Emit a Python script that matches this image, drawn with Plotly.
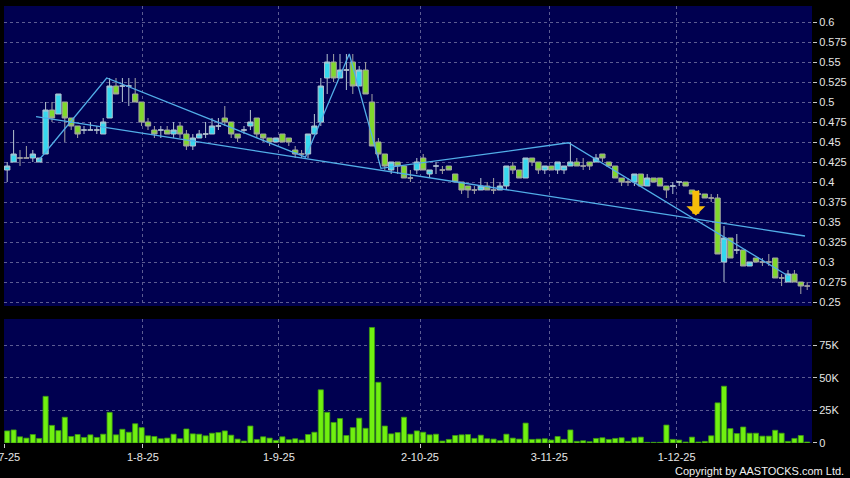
import plotly.graph_objects as go

# ---- data (index = trading day, 2-Jul-2025 .. 31-Dec-2025) ----
opens = [.415,.425,.43,.43,.43,.425,.435,.49,.485,.50,
         .48,.47,.465,.465,.465,.46,.48,.52,.52,.52,
         .51,.50,.475,.465,.465,.465,.46,.47,.46,.445,
         .455,.46,.46,.47,.48,.475,.46,.465,.47,.48,
         .46,.455,.45,.46,.455,.44,.435,.435,.46,.475,
         .53,.55,.53,.54,.55,.52,.54,.50,.45,.435,
         .415,.425,.42,.405,.415,.43,.41,.42,.415,.42,
         .41,.40,.395,.39,.39,.395,.39,.39,.395,.42,
         .415,.405,.43,.425,.415,.42,.415,.415,.42,.425,
         .42,.425,.425,.435,.425,.42,.405,.40,.40,.41,
         .395,.405,.405,.395,.395,.40,.40,.39,.385,.385,
         .38,.38,.30,.33,.315,.315,.295,.305,.30,.30,
         .305,.28,.275,.285,.275,.27]
highs = [.425,.465,.44,.445,.44,.43,.50,.50,.51,.50,
         .48,.47,.47,.475,.47,.48,.53,.53,.53,.53,
         .53,.50,.48,.47,.47,.47,.475,.475,.465,.46,
         .465,.475,.48,.48,.495,.475,.46,.47,.49,.48,
         .46,.455,.455,.46,.455,.445,.44,.46,.485,.53,
         .56,.56,.56,.56,.56,.545,.55,.51,.455,.435,
         .425,.425,.42,.415,.43,.435,.415,.425,.42,.42,
         .41,.40,.395,.395,.405,.40,.405,.40,.42,.425,
         .415,.43,.43,.425,.42,.42,.425,.42,.45,.43,
         .43,.425,.435,.435,.425,.42,.405,.405,.41,.41,
         .41,.405,.405,.395,.40,.40,.40,.39,.39,.385,
         .385,.385,.345,.33,.335,.315,.30,.305,.305,.31,
         .305,.285,.29,.29,.275,.275]
lows = [.40,.425,.42,.43,.425,.425,.435,.475,.485,.45,
        .465,.455,.46,.465,.46,.46,.48,.51,.50,.495,
        .50,.47,.465,.455,.455,.46,.455,.455,.44,.44,
        .455,.455,.46,.465,.47,.455,.45,.46,.465,.455,
        .45,.445,.45,.45,.445,.43,.43,.43,.46,.47,
        .51,.525,.53,.515,.51,.52,.51,.445,.43,.415,
        .41,.41,.405,.40,.41,.415,.405,.41,.41,.415,
        .40,.385,.38,.385,.39,.39,.385,.39,.39,.41,
        .405,.405,.42,.41,.41,.415,.41,.41,.42,.42,
        .415,.415,.425,.425,.42,.405,.395,.395,.395,.395,
        .395,.40,.395,.38,.385,.395,.395,.385,.38,.38,
        .375,.31,.275,.305,.31,.295,.295,.30,.295,.295,
        .28,.27,.275,.275,.26,.265]
closes = [.42,.435,.43,.43,.435,.43,.49,.48,.51,.48,
          .47,.46,.465,.465,.465,.475,.52,.51,.52,.52,
          .50,.475,.47,.46,.465,.46,.465,.46,.445,.455,
          .46,.46,.47,.47,.475,.46,.455,.465,.475,.46,
          .455,.45,.455,.45,.45,.435,.435,.46,.47,.52,
          .55,.53,.54,.54,.52,.54,.51,.445,.435,.42,
          .425,.42,.405,.405,.425,.415,.415,.42,.415,.415,
          .40,.39,.39,.39,.395,.39,.39,.395,.42,.415,
          .405,.43,.425,.415,.42,.415,.425,.42,.425,.42,
          .42,.42,.43,.43,.42,.405,.40,.40,.41,.395,
          .405,.40,.395,.39,.395,.40,.395,.385,.385,.38,
          .38,.31,.33,.305,.315,.295,.30,.30,.30,.30,
          .28,.28,.285,.275,.27,.27]
volumes_k = [9.25,10,4.75,3.75,6.5,3.5,35.75,13.5,9.5,19.75,
             5,6.5,4.25,6.25,4.25,6.75,23.5,6.25,10.5,8.25,
             14.75,11.75,5.5,5,3.25,3.75,6.75,3.25,10.75,7,
             6.75,5.5,7.5,8,9.25,6,3,1.5,13,2.75,
             4.75,3.75,2,4.75,2.5,3.25,2.25,6.5,8.25,40.75,
             23.5,15.75,18.75,5.75,11.75,19,11.25,88.5,46.5,13,
             7,8,19.75,6.75,9.25,8.25,6.25,6.75,1.5,2.75,
             5.75,6.25,6.5,3.5,6,3.25,3,1.75,6.75,3.75,
             3,15.25,2.75,3,3.25,2.25,5,2.75,10,1.25,
             1.75,1,3.5,4,2.75,3.5,4,1.25,4,4.5,
             0.5,0.5,0.5,13.75,2.75,2.25,0.75,4.5,0.75,1.25,
             5.5,30.75,43.5,11,7.25,12.25,7.5,7.5,5.25,5.25,
             9.75,7.5,1.25,3.5,5.75,0.75]

day_index = list(range(len(opens)))
volumes = [v * 1000 for v in volumes_k]

month_pos = [-0.45, 21.2, 42.45, 64.5, 84.7, 104.6]
month_labels = ["2-7-25", "1-8-25", "1-9-25", "2-10-25", "3-11-25", "1-12-25"]

price_ticks = [0.25, 0.275, 0.3, 0.325, 0.35, 0.375, 0.4, 0.425, 0.45,
               0.475, 0.5, 0.525, 0.55, 0.575, 0.6]
price_labels = ["0.25", "0.275", "0.3", "0.325", "0.35", "0.375", "0.4", "0.425",
                "0.45", "0.475", "0.5", "0.525", "0.55", "0.575", "0.6"]
vol_ticks = [0, 25000, 50000, 75000]
vol_labels = ["0", "25K", "50K", "75K"]

# trend line and zigzag
trend_x = [4.5, 124.66]
trend_y = [0.4816, 0.3325]
zigzag_x = [4.97, 15.55, 46.6, 53.45, 58.4, 87.7, 122.05]
zigzag_y = [0.4275, 0.53, 0.431, 0.56, 0.417, 0.449, 0.2825]

signal_x = 107.6
signal_tip = 0.358
signal_tail = 0.391

FONT = "Liberation Sans, Arial, sans-serif"
GRID = "#5c5c92"
LINE = "#52aee8"

fig = go.Figure()
fig.add_trace(go.Candlestick(
    x=day_index, open=opens, high=highs, low=lows, close=closes,
    increasing=dict(fillcolor="#35d8ee", line=dict(color="#b4c4d0", width=1)),
    decreasing=dict(fillcolor="#80d82c", line=dict(color="#a4a4a4", width=1)),
    whiskerwidth=0, xaxis="x", yaxis="y", hoverinfo="skip"))
fig.add_trace(go.Scatter(x=trend_x, y=trend_y, mode="lines",
                         line=dict(color=LINE, width=1.3), xaxis="x", yaxis="y"))
fig.add_trace(go.Scatter(x=zigzag_x, y=zigzag_y, mode="lines",
                         line=dict(color=LINE, width=1.3), xaxis="x", yaxis="y"))
fig.add_trace(go.Bar(x=day_index, y=volumes,
                     marker=dict(color="#70f010", line=dict(color="#3c9a12", width=0.8)),
                     xaxis="x2", yaxis="y2"))

xcommon = dict(range=[-0.5, 125.75], tickmode="array", tickvals=month_pos,
               showgrid=True, gridcolor=GRID, griddash="3px,3px", gridwidth=1,
               zeroline=False, showline=False, automargin=False)
ycommon = dict(side="right", showgrid=True, gridcolor=GRID, griddash="3px,3px",
               gridwidth=1, zeroline=False, showline=False, ticks="outside",
               ticklen=4, tickcolor="#c8c8c8", automargin=False,
               tickfont=dict(family=FONT, size=11, color="#e6e6e6"))

fig.update_layout(
    width=850, height=478,
    paper_bgcolor="black", plot_bgcolor="#000050",
    margin=dict(l=4, r=38, t=6, b=35),
    showlegend=False, template="none",
    boxgap=0.17, boxgroupgap=0, bargap=0.2,
    xaxis=dict(**xcommon, anchor="y", showticklabels=False, ticks="",
               rangeslider=dict(visible=False)),
    xaxis2=dict(**xcommon, anchor="y2", matches="x", ticktext=month_labels,
                ticks="outside", ticklen=4, tickcolor="#c8c8c8",
                ticklabeloverflow="allow",
                tickfont=dict(family=FONT, size=11, color="#e6e6e6")),
    yaxis=dict(**ycommon, domain=[0.3135, 1], range=[0.245, 0.62],
               tickmode="array", tickvals=price_ticks, ticktext=price_labels),
    yaxis2=dict(**ycommon, domain=[0, 0.2838], range=[0, 95000],
                tickmode="array", tickvals=vol_ticks, ticktext=vol_labels),
    annotations=[
        dict(x=signal_x, y=signal_tip, ax=signal_x, ay=signal_tail,
             xref="x", yref="y", axref="x", ayref="y", text="",
             showarrow=True, arrowhead=1, arrowsize=0.45, arrowwidth=7,
             arrowcolor="#f7bd0a"),
        dict(x=1.042, y=-0.064, xref="paper", yref="paper",
             xanchor="right", yanchor="middle", showarrow=False,
             text="Copyright by AASTOCKS.com Ltd.",
             font=dict(family=FONT, size=11, color="#f0f0f0")),
    ],
)

fig.write_html("out.html", config={"displayModeBar": False},
               post_script="document.body.style.margin='0';document.body.style.overflow='hidden';")
